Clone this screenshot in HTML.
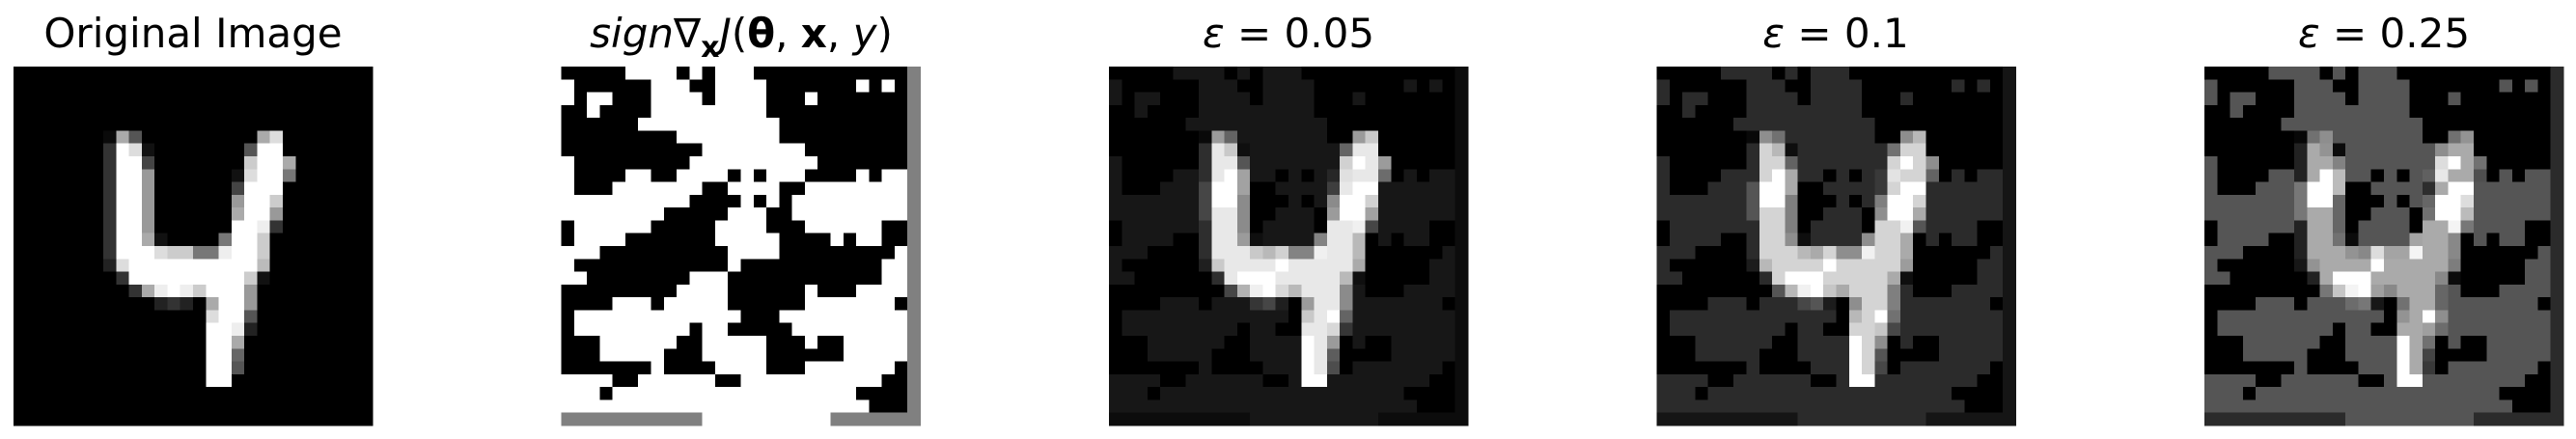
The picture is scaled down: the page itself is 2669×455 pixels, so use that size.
<!DOCTYPE html>
<html><head><meta charset="utf-8">
<style>
html,body{margin:0;padding:0;background:#fff;}
svg{display:block;}
text{font-family:"DejaVu Sans","Liberation Sans",sans-serif;font-size:42px;fill:#000;}
</style></head>
<body>
<svg id="fig" width="2669" height="455" viewBox="0 0 2669 455" shape-rendering="crispEdges">
  <text x="200" y="49" text-anchor="middle">Original Image</text>
  <text x="768" y="49" text-anchor="middle"><tspan font-style="italic">sign</tspan>∇<tspan font-weight="bold" font-size="30" dy="10">x</tspan><tspan font-style="italic" dy="-10">J</tspan>(<tspan font-weight="bold">θ</tspan>, <tspan font-weight="bold">x</tspan>, <tspan font-style="italic">y</tspan>)</text>
  <text x="1335" y="49" text-anchor="middle"><tspan font-style="italic">ε</tspan> = 0.05</text>
  <text x="1902" y="49" text-anchor="middle"><tspan font-style="italic">ε</tspan> = 0.1</text>
  <text x="2470" y="49" text-anchor="middle"><tspan font-style="italic">ε</tspan> = 0.25</text>
</svg>
<script>
// Sign of gradient: B = -1, W = +1, G = 0
const signRows = [
"BBBBBWWWWBWBWWWBBBBBBBBBBBBG",
"WBBBBBBWWWBBWWWWBBBBBBBWBWBG",
"WBWWBBBWWWWBWWWWBBBWBBBBBBBG",
"BBWBBBBWWWWWWWWWBBBBBBBBBBBG",
"BBBBBBWWWWWWWWWWWBBBBBBBBBBG",
"BBBBBBBBBWWWWWWWWBBBBBBBBBBG",
"BBBBBBBBBBBWWWWWWWWBBBBBBBBG",
"WBBBBBBBBBWWWWWWWWWWBBBBBBBG",
"WBBBBWWBBWWWWBWBWWWBBBBWBWWG",
"WBBBWWWWWWWBBWWWWBBWWWWWWWWG",
"WWWWWWWWWWBBBBWBWBWWWWWWWWWG",
"WWWWWWWWBBBBBWWWBBWWWWWWWWWG",
"BWWWWWWBBBBBWWWWBBBWWWWWWBBG",
"BWWWWBBBBBBBWWWWWBBBBWBWWBBG",
"WWWBBBBBBBBBBWWWWBBBBBBBBBWG",
"WBBBBBBBBBBBBWBBBBBBBBBBBWWG",
"WWBBBBBBBBWWWBBBBBBBBBBBBWWG",
"BBBBBBBBBWWWWBBBBBBWBBBWWWWG",
"BBBBWWWBWWWWWBBBBBBWWWWWWWBG",
"BWWWWWWWWWWWWWBBBWWWWWWWWWWG",
"BWWWWWWWWWBWWBBBBBWWWWWWWWWG",
"BBBWWWWWWBBWWWWWBBBWBBWWWWWG",
"BBBWWWWWBBBWWWWWBBBBBBWWWWWG",
"BBBBBBBWBBBBWWWWBBBWWWWWWWBG",
"WWWWBBWWWWWWBBWWWWWWWWWWWBBG",
"WWWBWWWWWWWWWWWWWWWWWWWBBBBG",
"WWWWWWWWWWWWWWWWWWWWWWWWBBBG",
"GGGGGGGGGGGWWWWWWWWWWGGGGGGG"
];
// Original digit intensities (0-255): [row, col, value]
const digitPixels = [
[5,7,10],[5,8,170],[5,9,85],[5,19,170],[5,20,221],
[6,7,51],[6,8,255],[6,9,221],[6,10,17],[6,18,85],[6,19,255],[6,20,255],
[7,7,51],[7,8,255],[7,9,255],[7,10,68],[7,18,204],[7,19,255],[7,20,255],[7,21,170],
[8,7,51],[8,8,255],[8,9,255],[8,10,153],[8,17,17],[8,18,221],[8,19,255],[8,20,255],[8,21,119],
[9,7,51],[9,8,255],[9,9,255],[9,10,153],[9,17,68],[9,18,255],[9,19,255],[9,20,255],
[10,7,51],[10,8,255],[10,9,255],[10,10,153],[10,17,153],[10,18,255],[10,19,255],[10,20,204],
[11,7,51],[11,8,255],[11,9,255],[11,10,153],[11,17,170],[11,18,255],[11,19,255],[11,20,153],
[12,7,51],[12,8,255],[12,9,255],[12,10,153],[12,17,255],[12,18,255],[12,19,238],[12,20,51],
[13,7,51],[13,8,255],[13,9,255],[13,10,170],[13,11,17],[13,16,119],[13,17,255],[13,18,255],[13,19,204],
[14,7,51],[14,8,255],[14,9,255],[14,10,255],[14,11,221],[14,12,204],[14,13,204],[14,14,119],[14,15,119],[14,16,238],[14,17,255],[14,18,255],[14,19,204],
[15,7,34],[15,8,221],[15,9,255],[15,10,255],[15,11,255],[15,12,255],[15,13,255],[15,14,255],[15,15,255],[15,16,255],[15,17,255],[15,18,255],[15,19,187],
[16,8,51],[16,9,255],[16,10,255],[16,11,255],[16,12,255],[16,13,255],[16,14,255],[16,15,255],[16,16,255],[16,17,255],[16,18,204],[16,19,17],
[17,9,51],[17,10,170],[17,11,238],[17,12,255],[17,13,238],[17,14,204],[17,15,255],[17,16,255],[17,17,255],[17,18,153],
[18,11,34],[18,12,51],[18,13,34],[18,15,170],[18,16,255],[18,17,255],[18,18,153],
[19,15,221],[19,16,255],[19,17,255],[19,18,85],
[20,15,255],[20,16,255],[20,17,238],[20,18,34],
[21,15,255],[21,16,255],[21,17,170],
[22,15,255],[22,16,255],[22,17,102],
[23,15,255],[23,16,255],[23,17,85],
[24,15,255],[24,16,255]
];
const epsilons = [0.05, 0.1, 0.25];

const N = 28;
const panelX = [14, 581.5, 1149, 1716.5, 2284];
const panelY = 69, panelSize = 372;
const svgNS = "http://www.w3.org/2000/svg";
const fig = document.getElementById('fig');

const orig = [];
for (let r = 0; r < N; r++) { orig.push(new Array(N).fill(0)); }
digitPixels.forEach(p => { orig[p[0]][p[1]] = p[2] / 255; });
const sign = signRows.map(row => row.split('').map(ch => ch === 'B' ? -1 : ch === 'W' ? 1 : 0));

function gray(t) {
  const v = Math.max(0, Math.min(255, Math.round(t * 255)));
  return 'rgb(' + v + ',' + v + ',' + v + ')';
}
function drawPanel(idx, grid, name) {
  let mn = Infinity, mx = -Infinity;
  grid.forEach(row => row.forEach(v => { mn = Math.min(mn, v); mx = Math.max(mx, v); }));
  const g = document.createElementNS(svgNS, 'g');
  
  
  const cell = panelSize / N;
  const x0 = panelX[idx];
  for (let r = 0; r < N; r++) {
    for (let c = 0; c < N; c++) {
      const rect = document.createElementNS(svgNS, 'rect');
      const xa = x0 + c * cell, ya = panelY + r * cell;
      rect.setAttribute('x', xa.toFixed(2));
      rect.setAttribute('y', ya.toFixed(2));
      rect.setAttribute('width', (cell + 0.6).toFixed(2));
      rect.setAttribute('height', (cell + 0.6).toFixed(2));
      rect.setAttribute('fill', gray(mx > mn ? (grid[r][c] - mn) / (mx - mn) : 0));
      g.appendChild(rect);
    }
  }
  fig.appendChild(g);
}
drawPanel(0, orig, 'original-image-panel');
drawPanel(1, sign, 'gradient-sign-panel');
epsilons.forEach((e, i) => {
  const grid = orig.map((row, r) => row.map((v, c) => v + e * sign[r][c]));
  drawPanel(2 + i, grid, 'perturbed-image-panel-eps-' + String(e).replace('.', '-'));
});
</script>
</body></html>
